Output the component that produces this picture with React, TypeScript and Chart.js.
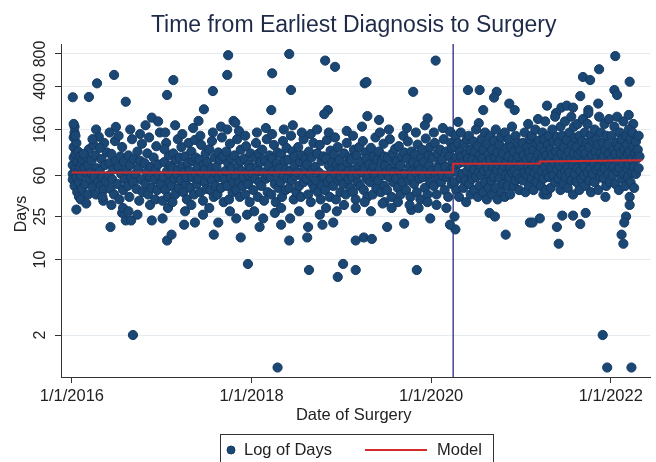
import React, { useEffect, useRef } from 'react';
import { Chart, registerables } from 'chart.js';

Chart.register(...registerables);

const TITLE = 'Time from Earliest Diagnosis to Surgery';
const X_TITLE = 'Date of Surgery';
const Y_TITLE = 'Days';
const LEGEND_POINTS = 'Log of Days';
const LEGEND_MODEL = 'Model';

const X_TICKS = [2016, 2018, 2020, 2022];
const X_TICK_LABELS = ['1/1/2016', '1/1/2018', '1/1/2020', '1/1/2022'];
const Y_TICKS = [2, 10, 25, 60, 160, 400, 800];
const X_MIN = 2015.879;
const X_MAX = 2022.441;
const Y_MIN = 0.817;
const Y_MAX = 990;

const POLICY_DATE = 2020.245;
const MODEL_DATES = [2016.0, 2020.245, 2020.245, 2021.21, 2021.21, 2022.35];
const MODEL_DAYS = [64, 64, 77, 77.5, 81, 83];

// [fraction of year, days]
const pts2016 = [
  [.01,318],[.19,320],[.28,428],[.47,512],[.60,289],[.30,137],[.49,169],[.89,206],[.05,29],[.35,35],[.43,20],[.68,2],[.60,23],[.66,23],[.89,23],[.56,27],
  [.01,62],[.01,75],[.02,88],[.02,110],[.02,135],[.03,150],[.03,170],[.01,55],[.03,48],[.04,68],[.04,95],[.05,120],[.05,58],[.06,42],[.06,80],[.07,66],[.07,100],[.08,52],[.08,38],[.09,72],[.09,90],[.10,60],[.11,45],[.11,78],[.12,84],[.04,140],[.02,180],[.10,36],
  [.14,70],[.15,50],[.16,88],[.17,62],[.18,40],[.19,105],[.20,56],[.16,33],[.13,95],[.18,75],
  [.21,64],[.22,82],[.23,47],[.24,115],[.25,58],[.26,92],[.27,40],[.28,70],[.29,52],[.23,130],[.27,160],
  [.31,66],[.32,48],[.33,85],[.34,58],[.35,44],[.36,120],[.37,75],[.38,53],[.39,98],[.34,38],[.31,108],
  [.41,60],[.42,78],[.43,45],[.44,95],[.45,55],[.46,68],[.47,40],[.48,125],[.49,82],[.44,32],[.42,150],
  [.51,50],[.52,72],[.53,36],[.54,90],[.55,62],[.56,110],[.57,44],[.58,80],[.59,56],[.52,140],[.57,30],
  [.61,66],[.62,48],[.63,92],[.64,38],[.65,75],[.66,58],[.67,130],[.68,52],[.69,85],[.63,28],[.65,160],
  [.71,62],[.72,45],[.73,100],[.74,70],[.75,35],[.76,82],[.77,55],[.78,118],[.79,42],[.73,26],[.76,145],
  [.81,78],[.82,50],[.83,64],[.84,96],[.85,40],[.86,135],[.87,58],[.88,72],[.89,46],[.82,175],[.87,32],
  [.91,88],[.92,55],[.93,68],[.94,112],[.95,44],[.96,76],[.97,60],[.98,150],[.99,50],[.93,36],[.96,190],
];

const pts2017 = [
  [.74,780],[.73,512],[.13,459],[.06,334],[.57,363],[.47,246],[.41,192],[.80,192],[.82,185],[.96,9.1],[.06,15],[.11,17],[.37,22],[.88,16],[.25,21],[.01,35],[.01,24],[.58,17],
  [.02,58],[.03,80],[.04,44],[.05,120],[.06,66],[.07,38],[.08,92],[.09,52],[.10,74],[.04,150],[.07,30],[.03,105],[.09,62],
  [.11,48],[.12,70],[.13,96],[.14,56],[.15,40],[.16,84],[.17,62],[.18,130],[.19,46],[.12,34],[.15,175],[.18,68],[.20,88],
  [.21,54],[.22,110],[.23,72],[.24,42],[.25,64],[.26,90],[.27,50],[.28,36],[.29,78],[.23,145],[.26,28],[.28,58],[.30,120],
  [.31,66],[.32,46],[.33,100],[.34,58],[.35,82],[.36,40],[.37,128],[.38,62],[.39,50],[.33,32],[.35,165],[.38,88],[.40,72],
  [.41,56],[.42,84],[.43,42],[.44,115],[.45,64],[.46,35],[.47,76],[.48,52],[.49,96],[.43,140],[.46,26],[.48,68],[.50,45],
  [.51,80],[.52,60],[.53,105],[.54,44],[.55,70],[.56,54],[.57,150],[.58,38],[.59,88],[.53,30],[.56,125],[.59,64],[.60,48],
  [.61,72],[.62,40],[.63,98],[.64,58],[.65,84],[.66,46],[.67,135],[.68,62],[.69,34],[.63,22],[.66,170],[.68,90],[.70,55],
  [.71,66],[.72,100],[.73,48],[.74,78],[.75,36],[.76,118],[.77,58],[.78,86],[.79,42],[.73,160],[.76,28],[.78,70],[.80,52],
  [.81,92],[.82,60],[.83,44],[.84,130],[.85,74],[.86,52],[.87,38],[.88,104],[.89,66],[.83,24],[.86,155],[.88,82],[.90,48],
  [.91,58],[.92,86],[.93,40],[.94,112],[.95,64],[.96,50],[.97,76],[.98,34],[.99,96],[.93,140],[.95,26],[.97,60],[.99,70],
];

const pts2018 = [
  [.42,800],[.82,695],[.93,608],[.23,530],[.44,371],[.22,242],[.85,242],[.81,222],[.64,8],[.96,6.9],[.29,1],[.42,15],[.62,16],[.33,21],[.09,20],[.91,22],[.79,21],
  [.01,62],[.02,44],[.03,88],[.04,56],[.05,120],[.06,72],[.07,38],[.08,96],[.09,52],[.03,28],[.06,150],[.08,66],[.10,80],
  [.11,48],[.12,104],[.13,64],[.14,35],[.15,84],[.16,56],[.17,130],[.18,42],[.19,74],[.13,24],[.16,165],[.18,60],[.20,92],
  [.21,58],[.22,40],[.23,86],[.24,66],[.25,115],[.26,50],[.27,34],[.28,78],[.29,98],[.23,145],[.26,27],[.28,62],[.30,46],
  [.31,70],[.32,52],[.33,94],[.34,38],[.35,125],[.36,60],[.37,82],[.38,44],[.39,108],[.33,30],[.36,160],[.38,68],[.40,56],
  [.41,84],[.42,46],[.43,66],[.44,140],[.45,54],[.46,100],[.47,36],[.48,74],[.49,60],[.43,24],[.46,175],[.48,90],[.50,42],
  [.51,64],[.52,110],[.53,48],[.54,80],[.55,38],[.56,92],[.57,58],[.58,130],[.59,70],[.53,28],[.56,150],[.58,52],[.60,86],
  [.61,56],[.62,76],[.63,40],[.64,100],[.65,62],[.66,34],[.67,88],[.68,50],[.69,120],[.63,20],[.66,145],[.68,68],[.70,46],
  [.71,72],[.72,54],[.73,96],[.74,42],[.75,64],[.76,115],[.77,36],[.78,82],[.79,58],[.73,160],[.76,26],[.78,48],[.80,90],
  [.81,60],[.82,44],[.83,86],[.84,128],[.85,52],[.86,74],[.87,38],[.88,102],[.89,66],[.83,30],[.86,150],[.88,56],[.90,80],
  [.91,48],[.92,94],[.93,62],[.94,36],[.95,76],[.96,110],[.97,54],[.98,84],[.99,42],[.93,135],[.95,28],[.97,68],[.99,58],
];

const pts2019 = [
  [.02,9.1],[.26,428],[.28,440],[.80,357],[.29,213],[.42,196],[.96,203],[.16,8],[.84,8],[.16,15],[.25,16],[.34,15.5],[.51,20],[.70,21.5],[.78,28.8],[.99,24],[.48,34],
  [.01,70],[.02,50],[.03,96],[.04,62],[.05,40],[.06,120],[.07,78],[.08,55],[.09,88],[.03,32],[.06,155],[.08,66],[.10,46],
  [.11,84],[.12,58],[.13,42],[.14,104],[.15,68],[.16,36],[.17,92],[.18,52],[.19,74],[.13,140],[.16,30],[.18,62],[.20,110],
  [.21,48],[.22,80],[.23,64],[.24,125],[.25,44],[.26,70],[.27,98],[.28,56],[.29,38],[.23,170],[.26,34],[.28,86],[.30,60],
  [.31,76],[.32,52],[.33,108],[.34,66],[.35,40],[.36,90],[.37,58],[.38,135],[.39,46],[.33,28],[.36,72],[.38,62],[.40,84],
  [.41,54],[.42,100],[.43,68],[.44,42],[.45,82],[.46,60],[.47,118],[.48,48],[.49,74],[.43,150],[.46,33],[.48,90],[.50,64],
  [.51,44],[.52,88],[.53,58],[.54,130],[.55,70],[.56,38],[.57,96],[.58,52],[.59,78],[.53,160],[.56,30],[.58,64],[.60,106],
  [.61,56],[.62,82],[.63,46],[.64,112],[.65,66],[.66,40],[.67,90],[.68,60],[.69,140],[.63,34],[.66,74],[.68,52],[.70,98],
  [.71,62],[.72,44],[.73,86],[.74,124],[.75,54],[.76,72],[.77,38],[.78,100],[.79,66],[.73,165],[.76,32],[.78,58],[.80,80],
  [.81,50],[.82,94],[.83,64],[.84,42],[.85,116],[.86,76],[.87,56],[.88,36],[.89,88],[.83,150],[.86,30],[.88,68],[.90,104],
  [.91,58],[.92,80],[.93,46],[.94,132],[.95,68],[.96,40],[.97,92],[.98,62],[.99,110],[.93,175],[.96,34],[.98,74],[.99,52],
];

const pts2020 = [
  [.05,695],[.41,371],[.54,371],[.73,357],[.70,316],[.87,278],[.93,242],[.58,242],[.30,188],[.53,183],[.21,153],[.26,25],[.27,19],[.21,21],[.83,17],[.65,27],[.71,25],
  [.01,66],[.02,88],[.03,48],[.04,120],[.05,62],[.06,40],[.07,96],[.08,56],[.09,76],[.03,150],[.06,32],[.08,70],[.10,104],
  [.11,52],[.12,84],[.13,60],[.14,130],[.15,44],[.16,72],[.17,100],[.18,58],[.19,38],[.20,90],[.21,66],[.22,120],[.23,50],[.24,80],[.13,165],[.17,30],[.20,62],[.23,108],
  [.25,70],[.26,52],[.26,110],[.27,140],[.28,44],[.28,88],[.29,64],[.30,120],[.31,38],[.31,78],[.32,100],[.33,56],[.33,150],[.34,90],[.35,62],
  [.36,80],[.36,46],[.37,118],[.38,54],[.39,96],[.39,34],[.40,130],[.40,66],[.41,86],[.42,50],[.42,140],[.43,72],[.44,40],[.44,104],[.45,60],
  [.46,84],[.46,56],[.47,124],[.48,44],[.48,68],[.49,100],[.50,58],[.50,160],[.51,80],[.52,38],[.52,112],[.53,64],[.54,92],[.54,48],[.55,74],
  [.56,60],[.56,130],[.57,86],[.58,42],[.58,104],[.59,66],[.60,150],[.60,52],[.61,78],[.62,36],[.62,118],[.63,70],[.64,94],[.64,46],[.65,62],
  [.66,84],[.66,140],[.67,54],[.68,104],[.68,40],[.69,72],[.70,126],[.70,58],[.71,88],[.72,46],[.72,160],[.73,68],[.74,98],[.74,36],[.75,76],
  [.76,56],[.76,116],[.77,84],[.78,42],[.78,136],[.79,66],[.80,96],[.80,50],[.81,74],[.82,150],[.82,38],[.83,60],[.84,108],[.84,80],[.85,48],
  [.86,90],[.86,130],[.87,58],[.88,72],[.88,40],[.89,110],[.90,64],[.90,170],[.91,84],[.92,48],[.92,100],[.93,66],[.94,140],[.94,54],[.95,80],
  [.96,62],[.96,120],[.97,90],[.98,44],[.98,74],[.99,104],[.99,56],
];

const pts2021 = [
  [.10,22],[.87,578],[.69,490],[.77,459],[.66,326],[.29,266],[.45,255],[.51,266],[.58,255],[.86,278],[.39,227],[.75,242],[.75,227],[.91,2],[.96,1],[.42,14],[.40,20],[.46,25.5],[.58,25.5],[.66,21.3],[.72,27],[.21,24],[.13,22],[.94,38],[.25,40],[.29,40],
  [.01,76],[.02,120],[.02,54],[.03,92],[.04,64],[.04,150],[.05,42],[.06,84],[.07,110],[.07,60],[.08,180],[.08,72],[.09,48],[.09,98],[.10,130],[.10,66],
  [.11,88],[.12,56],[.12,140],[.13,74],[.14,104],[.14,44],[.15,64],[.16,160],[.16,82],[.17,52],[.17,118],[.18,70],[.19,94],[.19,200],[.20,60],[.20,126],
  [.21,80],[.22,48],[.22,110],[.23,66],[.24,150],[.24,88],[.25,56],[.26,100],[.26,130],[.27,72],[.27,190],[.28,44],[.28,92],[.29,62],[.30,116],[.30,80],
  [.31,140],[.31,58],[.32,86],[.33,104],[.33,46],[.34,70],[.35,160],[.35,94],[.36,60],[.36,124],[.37,78],[.38,210],[.38,52],[.39,100],[.40,68],[.40,136],
  [.41,86],[.42,56],[.42,120],[.43,74],[.44,170],[.44,44],[.45,96],[.45,62],[.46,140],[.47,80],[.47,50],[.48,110],[.49,66],[.49,190],[.50,90],[.50,58],
  [.51,128],[.52,72],[.52,46],[.53,100],[.54,150],[.54,64],[.55,84],[.56,210],[.56,54],[.57,116],[.58,76],[.58,40],[.59,96],[.59,170],[.60,62],[.60,134],
  [.61,82],[.62,52],[.62,110],[.63,70],[.63,180],[.64,94],[.65,44],[.65,140],[.66,66],[.67,100],[.67,56],[.68,124],[.69,80],[.69,200],[.70,60],[.70,104],
  [.71,150],[.71,72],[.72,48],[.72,96],[.73,120],[.74,64],[.74,180],[.75,84],[.76,54],[.76,110],[.77,70],[.78,140],[.78,42],[.79,92],[.80,62],[.80,124],
  [.81,78],[.82,160],[.82,52],[.83,100],[.84,68],[.84,130],[.85,86],[.86,44],[.86,116],[.87,210],[.87,72],[.88,58],[.89,96],[.89,150],[.90,64],[.90,84],
  [.91,120],[.92,56],[.92,90],[.93,180],[.93,70],[.94,104],[.95,48],[.95,140],[.96,80],[.97,62],[.97,116],[.98,96],[.98,200],[.99,74],[.99,52],
];

const pts2022 = [
  [.05,765],[.21,443],[.04,371],[.07,334],[.20,218],[.25,180],[.28,133],[.23,1],[.21,38],[.21,32],[.17,25],[.15,22],[.12,17],[.14,14],
  [.01,86],[.01,140],[.02,60],[.03,104],[.03,72],[.04,170],[.05,50],[.05,94],[.06,120],[.07,66],[.07,210],[.08,82],[.09,44],[.09,110],[.10,150],[.10,70],
  [.11,96],[.12,56],[.12,130],[.13,78],[.14,190],[.14,62],[.15,104],[.16,48],[.16,86],[.17,140],[.18,70],[.18,116],[.19,58],[.19,96],[.20,160],[.20,76],
  [.21,100],[.22,52],[.22,130],[.23,84],[.24,64],[.24,150],[.25,110],[.26,72],[.26,46],[.27,96],[.28,124],[.28,62],[.29,86],[.30,104],[.31,70],[.31,140],[.32,90],
];

const YEAR_GROUPS: [number, number[][]][] = [
  [2016, pts2016], [2017, pts2017], [2018, pts2018], [2019, pts2019],
  [2020, pts2020], [2021, pts2021], [2022, pts2022],
];

const FONT = '"Liberation Sans", Arial, Helvetica, sans-serif';
const DOT_COLOR = '#1b4775';
const DOT_BORDER = '#143a62';
const MODEL_COLOR = '#d42a2a';

const textPlugin = {
  id: 'customText',
  afterDraw(chart: any) {
    const ctx = chart.ctx as CanvasRenderingContext2D;
    const ys = chart.scales.y;
    const area = chart.chartArea;
    const cx = (area.left + area.right) / 2 - 2;
    ctx.save();
    ctx.fillStyle = '#222';
    ctx.font = `16px ${FONT}`;
    ctx.textAlign = 'center';
    ctx.textBaseline = 'middle';
    Y_TICKS.forEach((v) => {
      const py = ys.getPixelForValue(v);
      ctx.save();
      ctx.translate(41, py);
      ctx.rotate(-Math.PI / 2);
      ctx.fillText(String(v), 0, 0);
      ctx.restore();
    });
    ctx.save();
    ctx.translate(22, 214);
    ctx.rotate(-Math.PI / 2);
    ctx.fillText(Y_TITLE, 0, 0);
    ctx.restore();
    ctx.fillStyle = '#1e2a48';
    ctx.font = `23px ${FONT}`;
    ctx.textBaseline = 'alphabetic';
    ctx.fillText(TITLE, cx, 32);
    ctx.fillStyle = '#222';
    ctx.font = `16.5px ${FONT}`;
    ctx.fillText(X_TITLE, cx, 420);
    ctx.strokeStyle = '#333';
    ctx.lineWidth = 1;
    ctx.strokeRect(220.5, 434.5, 273, 40);
    ctx.beginPath();
    ctx.arc(231, 450, 4, 0, Math.PI * 2);
    ctx.fillStyle = DOT_COLOR;
    ctx.fill();
    ctx.strokeStyle = DOT_BORDER;
    ctx.stroke();
    ctx.beginPath();
    ctx.moveTo(365, 450);
    ctx.lineTo(427, 450);
    ctx.strokeStyle = MODEL_COLOR;
    ctx.lineWidth = 2;
    ctx.stroke();
    ctx.fillStyle = '#222';
    ctx.font = `16.5px ${FONT}`;
    ctx.textAlign = 'left';
    ctx.textBaseline = 'middle';
    ctx.fillText(LEGEND_POINTS, 244, 450);
    ctx.fillText(LEGEND_MODEL, 437, 450);
    ctx.restore();
  },
};

export default function App() {
  const ref = useRef<HTMLCanvasElement | null>(null);
  useEffect(() => {
    document.body.style.margin = '0';
    const canvas = ref.current;
    if (!canvas) return;
    const points = YEAR_GROUPS.flatMap(([year, arr]) =>
      arr.map(([f, d]) => ({ x: year + f, y: d }))
    );
    const model = MODEL_DATES.map((x, i) => ({ x, y: MODEL_DAYS[i] }));
    const chart = new Chart(canvas, {
      type: 'scatter',
      data: {
        datasets: [
          {
            label: 'Policy',
            data: [{ x: POLICY_DATE, y: Y_MIN }, { x: POLICY_DATE, y: Y_MAX }],
            showLine: true,
            borderColor: '#2b2a80',
            borderWidth: 1.3,
            pointRadius: 0,
            order: 3,
          } as any,
          {
            label: LEGEND_POINTS,
            data: points,
            backgroundColor: DOT_COLOR,
            borderColor: DOT_BORDER,
            borderWidth: 1,
            pointRadius: 4.6,
            order: 2,
          },
          {
            label: LEGEND_MODEL,
            data: model,
            showLine: true,
            borderColor: MODEL_COLOR,
            borderWidth: 2,
            pointRadius: 0,
            order: 1,
          } as any,
        ],
      },
      options: {
        animation: false,
        responsive: false,
        devicePixelRatio: 1,
        layout: { padding: { top: 44, left: 0, right: 0, bottom: 0 } },
        plugins: {
          legend: { display: false },
          title: { display: false },
          tooltip: { enabled: false },
        },
        scales: {
          x: {
            type: 'linear',
            min: X_MIN,
            max: X_MAX,
            afterBuildTicks: (s: any) => {
              s.ticks = X_TICKS.map((v) => ({ value: v }));
            },
            afterFit: (s: any) => {
              s.height = 85;
            },
            ticks: {
              autoSkip: false,
              maxRotation: 0,
              minRotation: 0,
              padding: 4,
              color: '#222',
              font: { family: FONT, size: 16.5 },
              callback: (v: any) => X_TICK_LABELS[X_TICKS.indexOf(Number(v))] ?? '',
            },
            grid: { drawOnChartArea: false, drawTicks: true, tickLength: 6, color: '#333' },
            border: { display: true, color: '#333' },
          },
          y: {
            type: 'logarithmic',
            min: Y_MIN,
            max: Y_MAX,
            afterBuildTicks: (s: any) => {
              s.ticks = Y_TICKS.map((v) => ({ value: v }));
            },
            afterFit: (s: any) => {
              s.width = 61;
            },
            ticks: { display: false },
            grid: { color: '#e6ebf0', tickColor: '#333', drawTicks: true, tickLength: 6 },
            border: { display: true, color: '#333' },
          },
        },
      },
      plugins: [textPlugin],
    });
    return () => chart.destroy();
  }, []);
  return (
    <div style={{ width: 656, height: 462, background: '#fff' }}>
      <canvas ref={ref} width={656} height={462} style={{ display: 'block' }} />
    </div>
  );
}
